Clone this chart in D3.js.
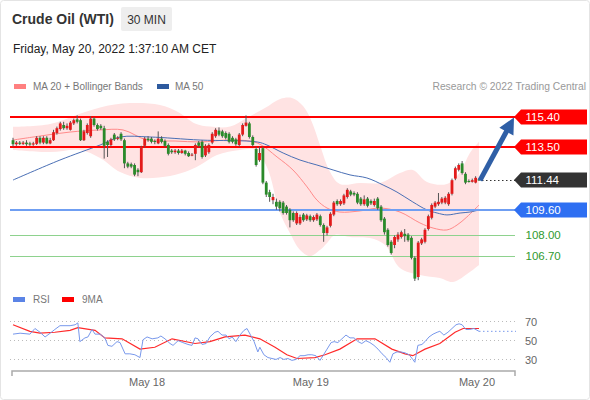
<!DOCTYPE html>
<html><head><meta charset="utf-8">
<script src="https://cdn.jsdelivr.net/npm/d3@7"></script>
<style>body{margin:0;background:#fff;} svg{display:block;font-family:"Liberation Sans",Arial,sans-serif;}</style>
</head><body><svg id="c" width="590" height="400"></svg>
<script>
// ---------- data ----------
const opens=[113.95,113.7,113.8,113.72,113.8,113.75,113.68,113.72,114.1,113.8,114.1,113.75,113.95,114.4,114.65,114.9,114.7,114.6,115.0,115.25,
115.2,113.95,114.4,114.2,115.3,114.9,114.85,114.7,113.85,113.65,114.3,114.05,114.35,113.95,112.5,112.45,112.4,112.1,111.95,113.6,
114.05,114.05,113.9,113.75,114.05,113.9,113.65,113.3,113.2,113.3,113.15,113.3,113.15,113.0,113.1,113.8,113.85,113.0,113.2,113.8,
114.2,114.55,114.5,114.4,114.35,114.1,114.0,113.65,114.3,114.85,115.0,114.15,113.4,112.7,113.45,111.3,110.7,110.2,110.1,110.1,
110.05,109.8,109.6,109.4,108.75,108.75,109.3,109.0,109.2,108.95,109.0,109.2,108.65,108.15,108.6,109.3,110.15,109.95,110.0,110.4,
110.75,110.65,110.6,110.3,109.95,110.3,110.15,109.9,110.3,109.8,109.05,108.35,107.6,107.4,107.75,107.9,108.1,108.05,107.85,106.6,
105.4,107.5,107.6,108.4,109.1,109.8,109.95,110.05,110.05,109.95,110.6,111.55,112.1,112.5,111.85,111.4,111.35,111.3,111.5];
const highs=[114.1,113.9,113.9,113.9,113.95,113.85,113.85,114.2,114.2,114.2,114.2,114.1,114.6,114.8,115.1,115.1,115.0,115.15,115.3,115.5,
115.3,114.6,115.0,115.45,115.4,115.0,114.95,114.85,113.95,114.1,114.4,114.2,114.45,114.05,112.6,112.55,112.5,112.2,113.6,114.15,
114.2,114.15,114.0,114.5,114.2,114.0,113.75,113.4,113.4,113.4,113.4,113.35,113.25,113.15,113.75,113.9,113.95,113.7,113.75,114.45,
114.7,114.75,114.6,114.5,114.45,114.2,114.1,114.4,115.0,115.5,115.1,114.25,113.55,113.55,113.55,111.4,110.85,110.6,110.3,110.2,
110.15,109.9,109.7,109.5,109.5,109.3,109.4,109.35,109.3,109.25,109.4,109.3,108.75,108.6,109.45,110.15,110.25,110.25,110.6,110.95,
110.85,110.75,110.7,110.4,110.5,110.4,110.25,110.3,110.4,109.9,109.15,108.45,107.7,108.0,108.2,108.3,108.4,108.15,107.95,106.7,
107.65,107.85,108.45,109.3,110.0,110.15,110.65,110.4,110.45,110.7,111.55,112.3,112.5,112.65,111.95,111.5,111.55,111.7,111.55];
const lows=[113.55,113.6,113.65,113.65,113.6,113.6,113.6,113.65,113.7,113.7,113.7,113.7,113.9,114.3,114.55,114.6,114.6,114.55,114.9,115.0,
113.9,113.9,114.3,114.1,114.8,114.55,114.6,112.8,112.9,113.55,113.9,113.95,113.9,112.2,112.2,112.2,111.7,111.7,111.9,113.5,
113.85,113.75,113.7,113.7,113.75,113.5,113.0,113.1,113.1,113.05,113.1,113.0,112.9,112.95,112.7,113.5,112.8,112.9,113.1,113.7,
114.1,114.2,114.1,114.0,113.75,113.75,113.6,113.55,114.2,114.8,114.05,113.55,112.3,112.6,111.2,110.4,110.1,109.95,109.6,109.5,
109.3,109.3,108.5,108.85,108.65,108.65,108.85,108.9,108.85,108.85,108.9,108.55,107.6,108.0,108.5,109.2,109.85,109.85,109.9,110.3,
110.45,110.45,109.95,109.85,109.85,109.75,109.9,109.8,109.6,108.85,108.05,107.3,106.8,107.2,107.6,107.8,107.6,107.6,106.5,105.15,
105.2,107.4,107.5,108.3,109.0,109.7,109.85,109.95,109.95,109.85,110.5,111.45,112.0,111.8,111.2,111.3,111.3,111.25,111.4];
const closes=[113.7,113.8,113.72,113.8,113.7,113.68,113.75,114.1,113.8,114.1,113.75,113.95,114.45,114.7,115.0,114.7,114.85,115.05,115.2,115.1,
113.95,114.5,114.9,115.3,114.9,114.65,114.7,113.6,113.65,114.0,114.0,114.1,114.0,112.5,112.3,112.3,111.8,111.95,113.5,114.05,
113.95,113.85,113.85,114.05,113.85,113.6,113.1,113.2,113.3,113.15,113.3,113.1,112.95,113.05,113.65,113.6,112.9,113.6,113.65,114.35,
114.6,114.3,114.2,114.1,113.85,113.85,113.7,114.3,114.9,115.05,114.15,113.65,112.4,113.15,111.3,110.55,110.4,110.4,109.8,109.7,
109.4,109.4,108.95,108.95,109.4,109.15,108.95,109.25,108.95,109.15,109.3,108.65,108.15,108.5,109.35,110.05,109.95,110.15,110.5,110.85,
110.55,110.55,110.05,109.95,110.25,109.85,110.0,110.15,109.7,108.95,108.2,107.4,106.9,107.9,108.05,108.2,107.95,107.7,106.6,105.3,
107.55,107.75,108.35,109.2,109.9,110.05,110.1,110.3,110.35,110.6,111.45,112.2,112.4,111.9,111.3,111.35,111.45,111.6,111.44];

// indicator lines: [candle index, value]
const bandUpper=[[0,114.78],[11,114.96],[19.8,115.6],[25.8,116.0],[34.6,116.27],[43.5,116.15],[49,115.7],[53.9,115.0],[58.3,114.8],[64.3,114.8],[69.3,115.35],[74.6,115.96],[79.1,116.53],[82.6,116.59],[85.9,116.09],[88.5,115.09],[90.9,113.65],[93.9,111.96],[96.8,111.21],[102.8,111.28],[108.7,111.28],[114.6,111.9],[118.4,112.09],[122.6,111.34],[128.5,111.21],[132.4,111.96],[135.3,113.15],[138,113.85]];
const bandLower=[[0,113.34],[11,113.21],[19.8,113.34],[25.8,112.84],[31.7,111.96],[37.6,111.59],[46.5,111.71],[52.4,112.09],[55.4,112.4],[60.4,113.03],[67.2,113.34],[71.7,113.34],[75.2,112.28],[79.1,109.4],[82,108.15],[85,107.09],[87.9,106.71],[90.9,107.09],[93,107.53],[95.3,108.03],[99.8,107.9],[105.7,107.84],[110.2,107.4],[114.6,105.96],[120.5,105.53],[126.4,105.34],[130.3,105.09],[135.3,105.71],[138,106.15]];
const ma20=[[0,113.96],[8,114.21],[16.9,114.46],[25.8,114.59],[32.6,114.59],[39.7,113.96],[48,113.9],[55.4,113.84],[64.3,113.96],[72.3,113.78],[78.2,112.9],[82.9,112.09],[87.1,111.03],[90,110.21],[93,109.71],[96.8,109.46],[102.8,109.53],[108.7,109.71],[114.6,109.46],[120.5,108.78],[124.4,108.46],[128.5,108.34],[131.5,108.65],[134.4,109.15],[138,109.9]];
const ma50=[[0,111.46],[13.9,112.71],[25.8,113.65],[31.7,114.15],[40.6,114.15],[55.4,113.96],[72.3,113.84],[75.2,113.65],[80,113.15],[85,112.71],[90,112.4],[94.8,112.09],[99.8,111.78],[104.8,111.59],[109.6,111.15],[113.7,110.71],[118.4,110.09],[122.6,109.59],[125.6,109.4],[128.5,109.28],[132.4,109.4],[135.3,109.46],[138,109.59]];

const rsi=[[0,56],[2.1,57],[5,56],[6.5,62],[8,58],[9.5,53],[11,57],[12.4,61],[13.9,65],[16.9,65],[18.4,66],[19.2,68],[19.8,48],[21.3,52],[22.2,53],[23.4,61],[24.3,56],[25.8,56],[27.2,52],[28.1,44],[29.3,43],[30.8,48],[31.7,47],[33.2,35],[34.6,35],[36.1,34],[37.6,31],[38.5,50],[39.7,53],[41.2,51],[42.9,52],[43.8,54],[45,51],[46.5,46],[47.4,44],[48.9,49],[50.3,47],[51.8,45],[53,44],[53.9,52],[54.8,51],[56,45],[57.2,46],[58.3,53],[59.8,58],[60.7,59],[61.9,55],[63.1,55],[64,51],[64.9,53],[66,48],[67.2,55],[68.4,60],[69.3,62],[70.2,56],[71.4,48],[72.5,37],[73.1,42],[74.3,34],[75.5,31],[76.7,30],[77.9,29],[79.1,31],[80.2,29],[81.4,30],[82.6,28],[83.8,29],[85,33],[86.2,33],[87.4,34],[88.5,34],[89.7,33],[90.9,28],[91.8,33],[93,40],[94.2,47],[95.1,48],[96.2,47],[97.4,51],[98.6,55],[99.8,52],[101,52],[102.2,48],[103.3,46],[104.5,49],[105.7,47],[106.9,44],[108.1,40],[109.3,35],[110.5,31],[111.6,26],[112.5,35],[113.7,37],[114.9,37],[116.1,36],[117.3,34],[118.4,29],[119,26],[119.9,44],[121.1,45],[122,48],[123.2,53],[124.4,56],[125.6,58],[126.4,59],[127.6,55],[128.8,58],[130,62],[131.2,66],[132.1,67],[133,66],[134.1,61],[135.3,61],[136.5,62],[138,59]];
const rsiMA=[[0,66],[5,59],[8,57],[12.4,58],[16.9,60],[19.2,63],[24.3,60],[27.2,52],[32.3,51],[37.6,40],[42,42],[47.1,51],[53.9,46],[58.3,48],[62.8,53],[68.7,55],[73.1,51],[77.6,42],[81.1,34],[84.1,30],[89.4,31],[92.4,34],[96.8,40],[101.9,51],[107.2,51],[112.2,40],[116.1,35],[118.4,33],[122,40],[126.4,46],[130.9,58],[133.3,62],[138,62]];

const levels=[115.40,113.50,111.44,109.60,108.00,106.70];
const tickIndex=[39.7,88.2,137.4];
const tickLabels=["May 18","May 19","May 20"];
const rsiTicks=[70,50,30];

// ---------- drawing ----------
const svg=d3.select("#c");
const N=closes.length;
const x=d3.scaleLinear().domain([0,N-1]).range([13,479]);
const y=d3.scaleLinear().domain([105,116]).range([283.4,107.4]);
const yr=d3.scaleLinear().domain([30,70]).range([358.5,321]);
const lineEnd=515;

svg.append("rect").attr("x",0.5).attr("y",0.5).attr("width",589).attr("height",399)
  .attr("rx",3).attr("fill","#fff").attr("stroke","#e4e4e4");

// header
svg.append("text").attr("x",12).attr("y",24).attr("font-size",14).attr("font-weight","bold")
  .attr("fill","#333").text("Crude Oil (WTI)");
svg.append("rect").attr("x",121).attr("y",7).attr("width",51).attr("height",24).attr("rx",2).attr("fill","#eeeeee");
svg.append("text").attr("x",146.5).attr("y",23.5).attr("text-anchor","middle").attr("font-size",12).attr("fill","#333").text("30 MIN");
svg.append("text").attr("x",13).attr("y",52.5).attr("font-size",12).attr("fill","#222").text("Friday, May 20, 2022 1:37:10 AM CET");

// legend
const lg=svg.append("g").attr("font-size",10).attr("fill","#777");
lg.append("rect").attr("x",14).attr("y",84).attr("width",12).attr("height",5).attr("fill","#ff8080");
lg.append("text").attr("x",33).attr("y",90).text("MA 20 + Bollinger Bands");
lg.append("rect").attr("x",157).attr("y",84).attr("width",12).attr("height",5).attr("fill","#2d5a9e");
lg.append("text").attr("x",175).attr("y",90).text("MA 50");
lg.append("text").attr("x",586).attr("y",90).attr("text-anchor","end").attr("font-size",10.3).attr("fill","#999").text("Research \u00a9 2022 Trading Central");

// bollinger band fill
const cr=d3.curveCatmullRom.alpha(0.5);
const ln=d3.line().x(d=>x(d[0])).y(d=>y(d[1])).curve(cr);
const upPath=ln(bandUpper);
const loPath=ln(bandLower.slice().reverse());
svg.append("path").attr("d",upPath+"L"+loPath.slice(1)+"Z").attr("fill","#ffe3e3");

// ma lines
svg.append("path").attr("d",ln(ma20)).attr("fill","none").attr("stroke","#ff8a8a").attr("stroke-width",1);
svg.append("path").attr("d",ln(ma50)).attr("fill","none").attr("stroke","#4a6fb5").attr("stroke-width",1);

// level lines
const lvlStyle=[
  {c:"#ff0000",w:2,tag:"#ff0000",txt:"#fff"},
  {c:"#ff0000",w:2,tag:"#ff0000",txt:"#fff"},
  {c:"#333",w:1,dash:"1.5,2.5",tag:"#333333",txt:"#fff",dotted:true},
  {c:"#6f9ef2",w:2,tag:"#2e6ff2",txt:"#fff"},
  {c:"#8ed28e",w:1,txt:"#2f9a2f"},
  {c:"#8ed28e",w:1,txt:"#2f9a2f"}];
levels.forEach((v,k)=>{
  const s=lvlStyle[k];
  const yy=Math.round(y(v))+(s.w===1?0.5:0);
  const x0=s.dotted?x(N-1)+3:10;
  const l=svg.append("line").attr("x1",x0).attr("x2",lineEnd).attr("y1",yy).attr("y2",yy)
    .attr("stroke",s.c).attr("stroke-width",s.w);
  if(s.dash) l.attr("stroke-dasharray",s.dash);
});

// candles
const cg=svg.append("g");
d3.range(N).forEach(i=>{
  const up=closes[i]>=opens[i];
  const col=up?"#e31b1b":"#2a8a2a";
  const cx=x(i);
  cg.append("line").attr("x1",cx).attr("x2",cx).attr("y1",y(highs[i])).attr("y2",y(lows[i]))
    .attr("stroke","#555").attr("stroke-width",1);
  const top=y(Math.max(opens[i],closes[i])), bot=y(Math.min(opens[i],closes[i]));
  cg.append("rect").attr("x",cx-1.4).attr("width",2.8).attr("y",top).attr("height",Math.max(1,bot-top))
    .attr("fill",col);
});

// forecast arrow
const sx=x(N-1)+1, sy=y(closes[N-1]);
const tx=lineEnd-1, ty=y(levels[0])+0.5;
const dx=tx-sx, dy=ty-sy, L=Math.hypot(dx,dy), ux=dx/L, uy=dy/L;
const hl=16, hw=8;
const bx=tx-hl*ux, by=ty-hl*uy;
svg.append("line").attr("x1",sx).attr("y1",sy).attr("x2",bx+ux).attr("y2",by+uy)
  .attr("stroke","#2f5fa6").attr("stroke-width",5);
svg.append("polygon").attr("points",[[tx,ty],[bx-hw*uy,by+hw*ux],[bx+hw*uy,by-hw*ux]].map(p=>p.join(",")).join(" "))
  .attr("fill","#2f5fa6");

// tags
levels.forEach((v,k)=>{
  const s=lvlStyle[k];
  const yy=Math.round(y(v));
  if(s.tag){
    svg.append("polygon").attr("points",[[514,yy],[521,yy-7.5],[587,yy-7.5],[587,yy+7.5],[521,yy+7.5]].map(p=>p.join(",")).join(" "))
      .attr("fill",s.tag);
  }
  svg.append("text").attr("x",525.5).attr("y",yy+4).attr("font-size",11.5).attr("fill",s.txt).text(v.toFixed(2));
});

// RSI panel
const rg=svg.append("g").attr("font-size",10).attr("fill","#777");
rg.append("rect").attr("x",13).attr("y",297).attr("width",12).attr("height",5).attr("fill","#5b84e6");
rg.append("text").attr("x",33).attr("y",303).text("RSI");
rg.append("rect").attr("x",62).attr("y",297).attr("width",12).attr("height",5).attr("fill","#ff0000");
rg.append("text").attr("x",82).attr("y",303).text("9MA");

rsiTicks.forEach(t=>{
  const yy=Math.round(yr(t))+0.5;
  svg.append("line").attr("x1",10).attr("x2",516).attr("y1",yy).attr("y2",yy)
    .attr("stroke","#bbb").attr("stroke-dasharray","1,3");
  svg.append("text").attr("x",525).attr("y",yy+4).attr("font-size",11).attr("fill","#666").text(t);
});
const lr=d3.line().x(d=>x(d[0])).y(d=>yr(d[1]));
svg.append("path").attr("d",lr(rsiMA)).attr("fill","none").attr("stroke","#ff2a2a").attr("stroke-width",1.2);
svg.append("path").attr("d",lr(rsi)).attr("fill","none").attr("stroke","#7898ec").attr("stroke-width",1);
const lastR=rsi[rsi.length-1];
svg.append("line").attr("x1",x(lastR[0])).attr("x2",516).attr("y1",yr(lastR[1])).attr("y2",yr(lastR[1]))
  .attr("stroke","#7898ec").attr("stroke-dasharray","1.5,2.5");

// x axis
const ax=svg.append("g").attr("transform","translate(0,371)");
ax.append("path").attr("d","M12,5V0H515V5").attr("fill","none").attr("stroke","#aaa").attr("stroke-width",1.5);
tickIndex.forEach((ti,k)=>{
  ax.append("text").attr("x",x(ti)).attr("y",15).attr("text-anchor","middle").attr("font-size",11).attr("fill","#666").text(tickLabels[k]);
});
</script></body></html>
